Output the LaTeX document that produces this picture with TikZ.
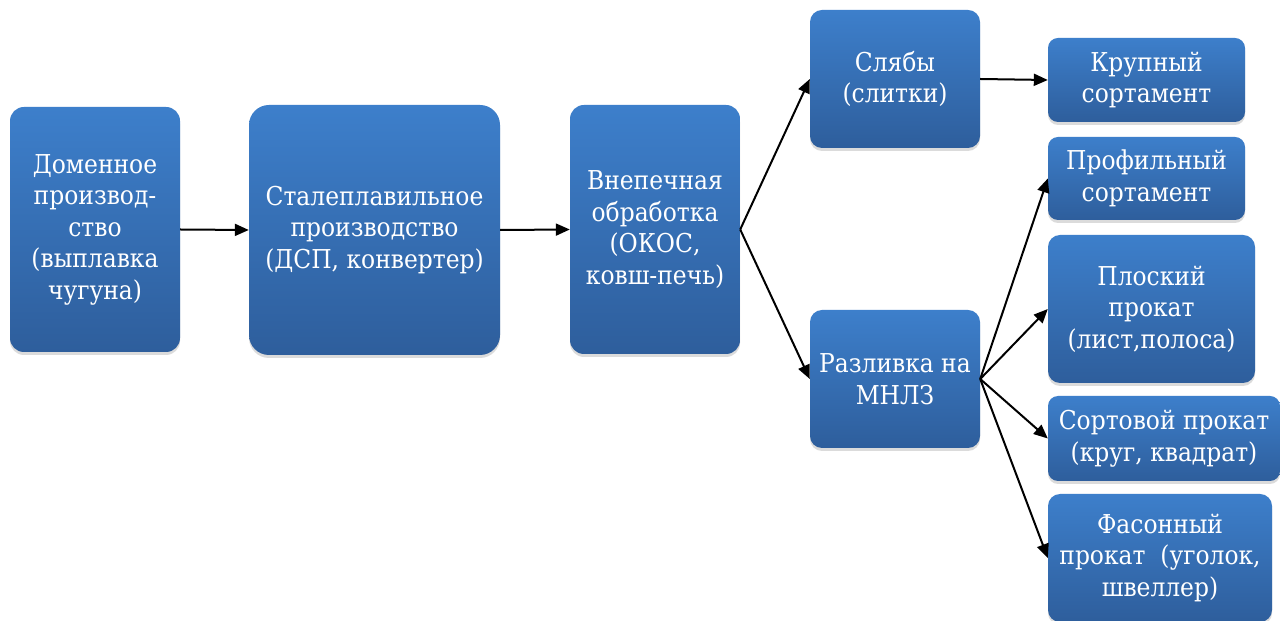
\documentclass[tikz,border=0pt]{standalone}
\usepackage{fontspec}
\newfontfamily\lserif{DejaVu Serif Condensed}
\usetikzlibrary{arrows.meta,shadows}
\definecolor{boxtop}{RGB}{61,127,203}
\definecolor{boxbot}{RGB}{46,94,156}
\tikzset{
  flowbox/.style={rounded corners=#1, top color=boxtop, bottom color=boxbot, draw=none,
    text=white, align=center, inner sep=0pt,
    font=\lserif\fontsize{26}{31.5}\selectfont,
    drop shadow={opacity=0.28, shadow xshift=0pt, shadow yshift=-3pt}},
  flowbox/.default=14pt,
  conn/.style={line width=2pt, -{Triangle[length=14pt,width=12pt]}}
}
\begin{document}
\begin{tikzpicture}[x=1pt,y=1pt]
\useasboundingbox[fill=white] (0,0) rectangle (1280,621);
\node[flowbox, minimum width=170pt, minimum height=245pt] (dom) at (95,391.5)
  {Доменное\\производ-\\ство\\(выплавка\\чугуна)};
\node[flowbox=20pt, minimum width=251pt, minimum height=250pt] (stal) at (374.5,391)
  {Сталеплавильное\\производство\\(ДСП, конвертер)};
\node[flowbox, minimum width=170pt, minimum height=249pt] (vne) at (655,391.5)
  {Внепечная\\обработка\\(ОКОС,\\ковш-печь)};
\node[flowbox=12pt, minimum width=170pt, minimum height=138pt] (sly) at (895,542)
  {Слябы\\(слитки)};
\node[flowbox=12pt, minimum width=170pt, minimum height=138pt] (raz) at (895,242)
  {Разливка на\\МНЛЗ};
\node[flowbox=10pt, minimum width=197pt, minimum height=84pt] (kru) at (1146.5,541)
  {Крупный\\сортамент};
\node[flowbox=10pt, minimum width=197pt, minimum height=83pt] (pro) at (1146.5,442.5)
  {Профильный\\сортамент};
\node[flowbox=12pt, minimum width=207pt, minimum height=148pt] (plo) at (1151.5,312)
  {Плоский\\прокат\\(лист,полоса)};
\node[flowbox=10pt, minimum width=232pt, minimum height=85pt] (sor) at (1164,182.5)
  {Сортовой прокат\\(круг, квадрат)};
\node[flowbox=12pt, minimum width=224pt, minimum height=128pt] (fas) at (1160,63)
  {Фасонный\\прокат\ \ (уголок,\\швеллер)};
\draw[conn] (dom.east) -- (stal.west);
\draw[conn] (stal.east) -- (vne.west);
\draw[conn] (vne.east) -- (sly.west);
\draw[conn] (vne.east) -- (raz.west);
\draw[conn] (sly.east) -- (kru.west);
\draw[conn] (raz.east) -- (pro.west);
\draw[conn] (raz.east) -- (plo.west);
\draw[conn] (raz.east) -- (sor.west);
\draw[conn] (raz.east) -- (fas.west);
\end{tikzpicture}
\end{document}
